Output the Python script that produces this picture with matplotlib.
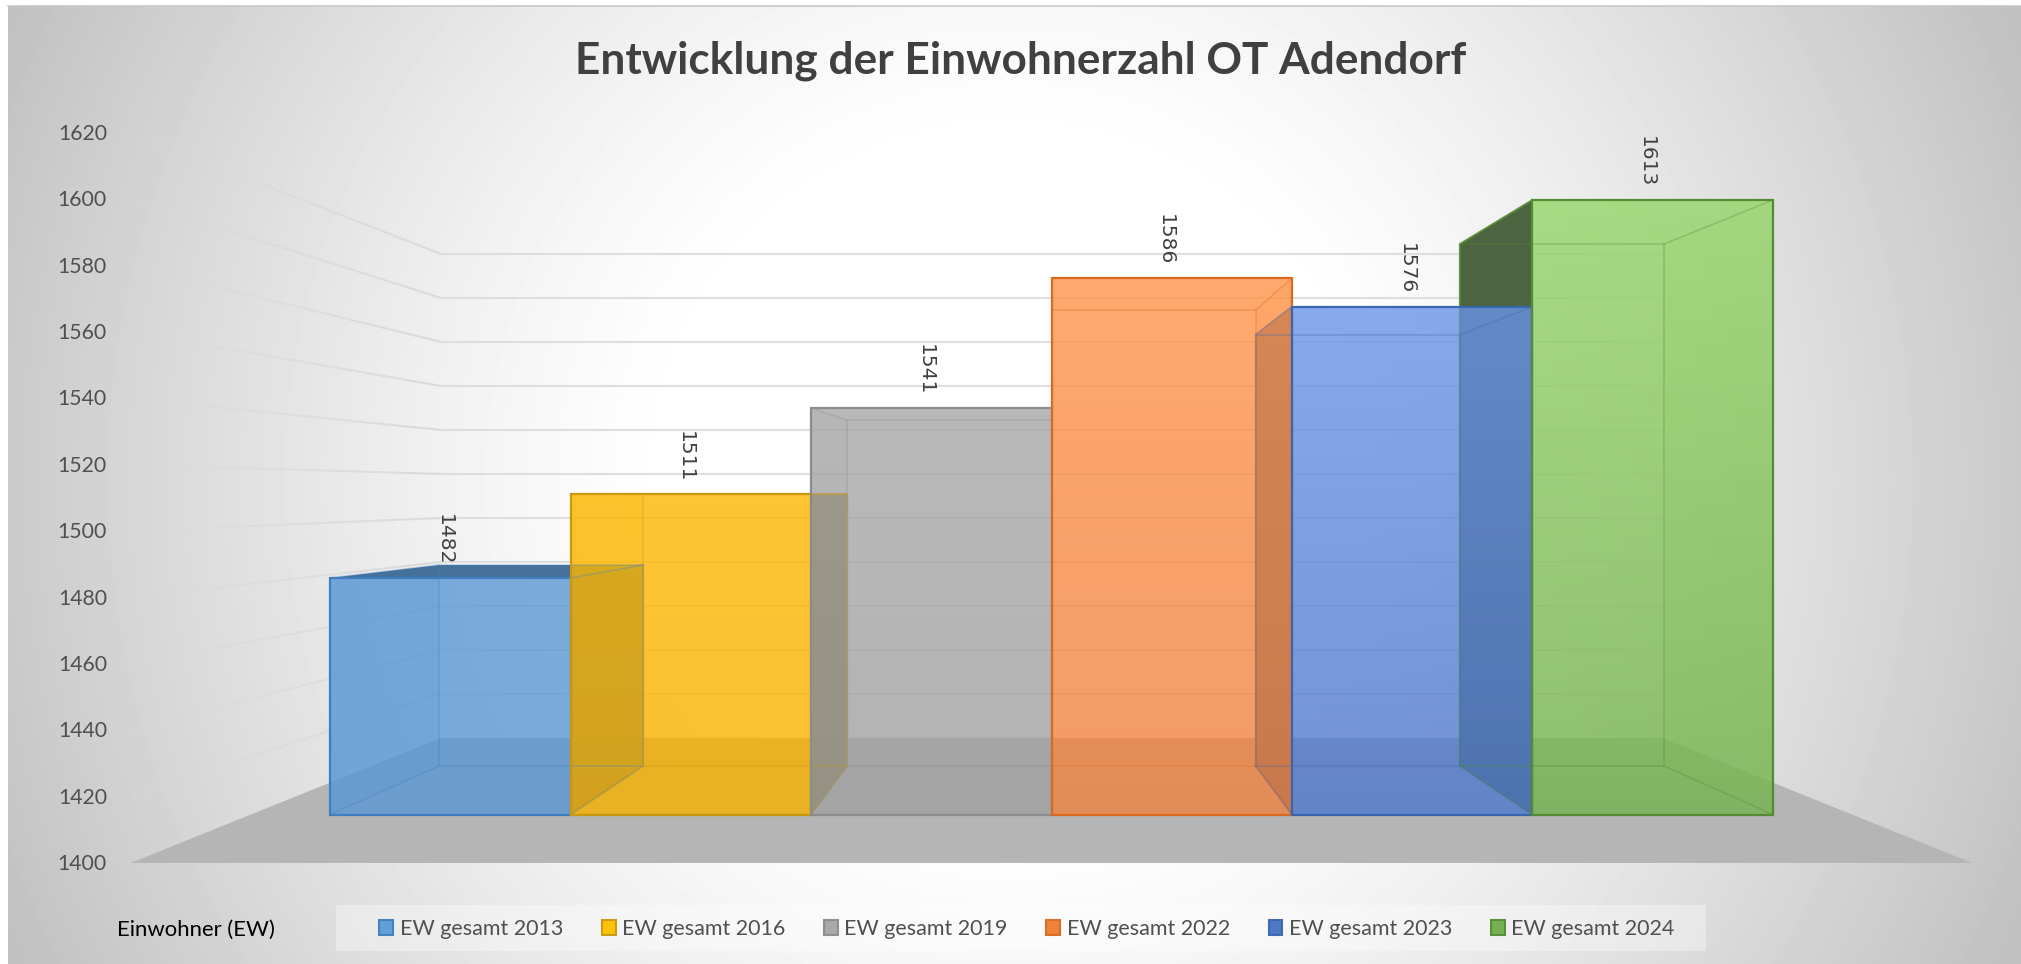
import numpy as np
import matplotlib
matplotlib.use("Agg")
import matplotlib.pyplot as plt
from matplotlib.collections import LineCollection
from matplotlib.colors import to_rgb, to_rgba
from matplotlib.patches import Patch, Polygon, Rectangle

plt.rcParams["font.family"] = ["Lato", "DejaVu Sans"]

# data
series = ["EW gesamt 2013", "EW gesamt 2016", "EW gesamt 2019",
          "EW gesamt 2022", "EW gesamt 2023", "EW gesamt 2024"]
values = [1482, 1511, 1541, 1586, 1576, 1613]
axis_ticks = [1400, 1420, 1440, 1460, 1480, 1500, 1520, 1540, 1560, 1580, 1600, 1620]

# colours
top_cols = ["#5a98d4", "#ffb800", "#a8a8a8", "#ff944a", "#6a94ea", "#97d56a"]
bot_cols = ["#5a98d4", "#f7b000", "#a0a0a0", "#ee8240", "#4f78cc", "#76b250"]
edge_cols = ["#3f7fbf", "#c79810", "#8c8c8c", "#d96a20", "#3a66b0", "#548c34"]
dark_cols = ["#3d6a95", "#6f5a10", "#666666", "#8a4a20", "#33527f", "#46603a"]
legend_cols = ["#5b9bd5", "#ffc000", "#a5a5a5", "#ed7d31", "#4472c4", "#70ad47"]

# perspective of the 3d box, in pixels of the picture
CX = 1051.5
HORIZON_Y = 492
HORIZON_V = 1511.8
S_FLOOR = 3.318
S_FRONT = 2.885
S_BACK = 2.45
S_WALL = 2.2
BOX_HALF = 250
WALL_HALF = 277.5
W, H = 2021, 964


def proj(x, v, s):
    return CX + x * s, HORIZON_Y + s * (HORIZON_V - v)


fig = plt.figure(figsize=(W / 100, H / 100), dpi=100)
ax = fig.add_axes([0, 0, 1, 1])

# radial background
yy, xx = np.mgrid[6:H, 8:W]
r = np.hypot(xx - 1010, yy - 480) / 1115
t = np.clip((r - 0.3) / 0.7, 0, 1) ** 1.25
ax.imshow(1 - t * 0.25, cmap="gray", vmin=0, vmax=1, extent=(8, W, H, 6), aspect="auto", zorder=0)
ax.plot([8, W], [6, 6], color="#c8c8c8", lw=1.2, zorder=1)

# grid on back and left wall, the left part fades out
fade = np.linspace(0, 1, 31)
for v in axis_ticks[1:]:
    px = [proj(-WALL_HALF, v, S_FLOOR + (S_WALL - S_FLOOR) * f) for f in fade]
    segs = [[px[k], px[k + 1]] for k in range(len(px) - 1)]
    cols = [to_rgba("#dadada", 0.3 + 0.7 * f) for f in fade[1:]]
    ax.add_collection(LineCollection(segs, colors=cols, linewidths=1.5, zorder=1))
    ax.plot(*zip(proj(-WALL_HALF, v, S_WALL), proj(WALL_HALF, v, S_WALL)), color="#dedede", lw=1.5, zorder=1)

# floor
floor = [proj(-WALL_HALF, 1400, S_FLOOR), proj(-WALL_HALF, 1400, S_WALL),
         proj(WALL_HALF, 1400, S_WALL), proj(WALL_HALF, 1400, S_FLOOR)]
ax.add_patch(Polygon(floor, closed=True, fc="#b5b5b5", ec="none", zorder=1.5))

n = len(values)
edges = np.linspace(-BOX_HALF, BOX_HALF, n + 1)


def wall(x, v):
    return [proj(x, 1400, S_FRONT), proj(x, v, S_FRONT), proj(x, v, S_BACK), proj(x, 1400, S_BACK)]


for i, v in enumerate(values):
    x0, x1 = edges[i], edges[i + 1]
    # the wall turned to the centre is seen from outside and gets dark
    if x1 <= 0:
        dark_x, light_x = x1, x0
    else:
        dark_x, light_x = x0, x1
    ax.add_patch(Polygon(wall(light_x, v), closed=True, fc=top_cols[i], ec="none", alpha=0.15, zorder=2))
    if dark_x != 0:
        ax.add_patch(Polygon(wall(dark_x, v), closed=True, fc=dark_cols[i], ec="none", alpha=0.97, zorder=3))
        # its edge stays under the front faces
        ax.plot(*zip(proj(dark_x, v, S_FRONT), proj(dark_x, v, S_BACK), proj(dark_x, 1400, S_BACK)),
                color=edge_cols[i], lw=1.4, alpha=0.8, zorder=3.5)
    # top seen from above
    if v < HORIZON_V - 5:
        top = [proj(x0, v, S_FRONT), proj(x1, v, S_FRONT), proj(x1, v, S_BACK), proj(x0, v, S_BACK)]
        ax.add_patch(Polygon(top, closed=True, fc=dark_cols[i], ec="none", alpha=0.95, zorder=3))

    # front face with vertical gradient
    fx0, fy0 = proj(x0, 1400, S_FRONT)
    fx1, fy1 = proj(x1, v, S_FRONT)
    c0, c1 = np.array(to_rgb(top_cols[i])), np.array(to_rgb(bot_cols[i]))
    ramp = np.linspace(0, 1, 64)[:, None]
    img = np.dstack([c0[0] + (c1[0] - c0[0]) * ramp,
                     c0[1] + (c1[1] - c0[1]) * ramp,
                     c0[2] + (c1[2] - c0[2]) * ramp,
                     np.full((64, 1), 0.8)])
    ax.imshow(img, extent=(fx0, fx1, fy0, fy1), aspect="auto", zorder=4)

    # inner edges of the box
    back = [proj(x0, 1400, S_BACK), proj(x0, v, S_BACK), proj(x1, v, S_BACK), proj(x1, 1400, S_BACK), proj(x0, 1400, S_BACK)]
    ax.plot(*zip(*back), color=edge_cols[i], lw=1.2, alpha=0.3, zorder=5)
    for x in (x0, x1):
        for val in (1400, v):
            ax.plot(*zip(proj(x, val, S_FRONT), proj(x, val, S_BACK)), color=edge_cols[i], lw=1.2, alpha=0.3, zorder=5)

    # front outline
    ax.add_patch(Rectangle((fx0, fy1), fx1 - fx0, fy0 - fy1, fc="none", ec=edge_cols[i], lw=1.6, zorder=6))

    # value label
    lx, ly = proj((x0 + x1) / 2, v, S_FRONT)
    ax.text(lx - 6, ly - 38, str(v), rotation=-90, ha="center", va="center", color="#404040",
            fontsize=14.5, family="DejaVu Sans", zorder=7)

# axis labels
for v in axis_ticks:
    _, y = proj(-WALL_HALF, v, S_FLOOR)
    ax.text(107, y + 1, str(v), ha="right", va="center", color="#505050", fontsize=15.3, zorder=7)

ax.text(1021, 61, "Entwicklung der Einwohnerzahl OT Adendorf", ha="center", va="center",
        color="#404040", fontsize=31.8, fontweight="bold", zorder=7)

# legend
ax.add_patch(Rectangle((336, 905), 1370, 46, fc="white", ec="none", alpha=0.35, zorder=2))
handles = [Patch(fc=c, ec=e, lw=1.5, alpha=0.95) for c, e in zip(legend_cols, edge_cols)]
leg = ax.legend(handles, series, ncol=6, loc="center", bbox_to_anchor=(1027, 929),
                bbox_transform=ax.transData, frameon=False, fontsize=15.5,
                labelcolor="#505050", handlelength=0.65, handleheight=0.7,
                handletextpad=0.3, columnspacing=1.79)
leg.set_zorder(7)

ax.text(117, 930, "Einwohner (EW)", ha="left", va="center", color="black", fontsize=15.9, zorder=7)

ax.set_xlim(0, W)
ax.set_ylim(H, 0)
ax.axis("off")

fig.savefig("out.png", dpi=100)
